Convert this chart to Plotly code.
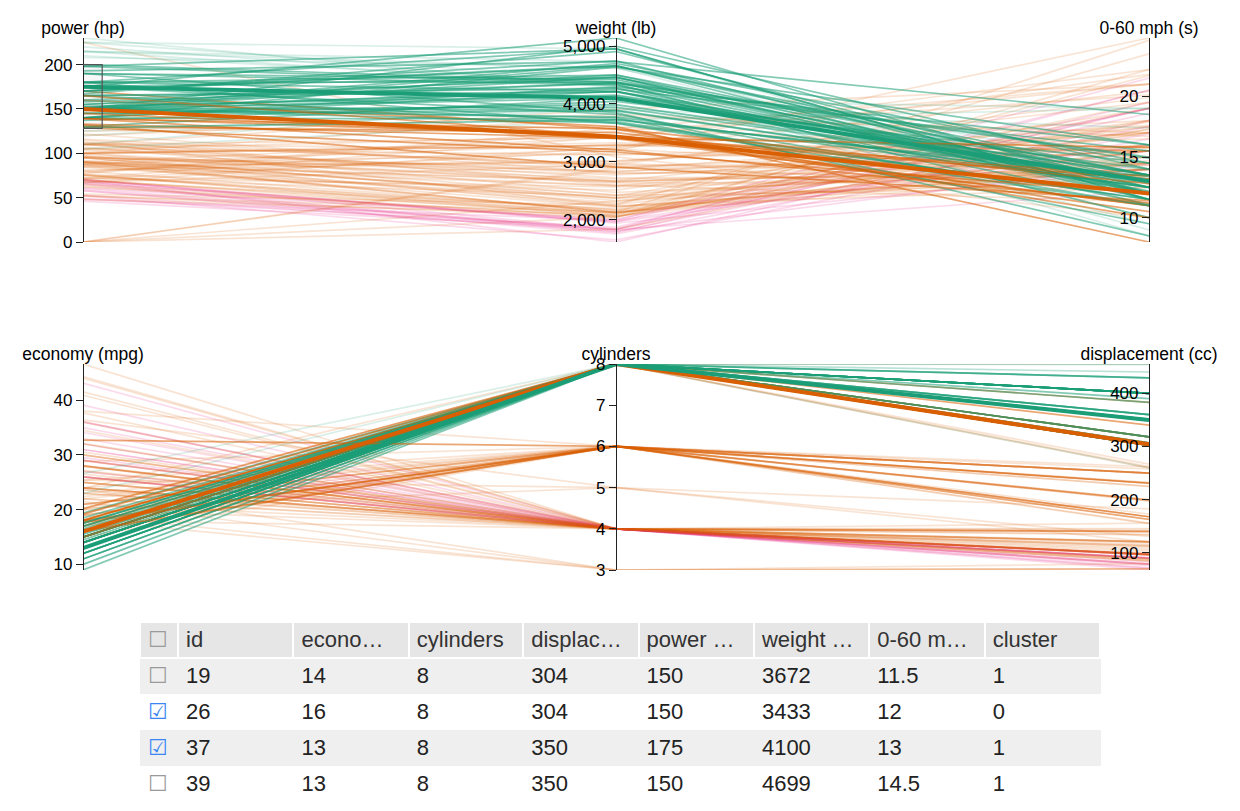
import plotly.graph_objects as go

# one entry per car
economy = [18, 15, 18, 16, 17, 15, 14, 14, 14, 15,
           15, 14, 15, 14, 24, 22, 18, 21, 27, 26,
           25, 24, 25, 26, 21, 10, 10, 11, 9, 28,
           25, 25, 19, 16, 17, 19, 18, 14, 14, 14,
           14, 12, 13, 13, 18, 22, 19, 18, 23, 28,
           30, 30, 31, 35, 27, 26, 23, 13, 15, 17,
           11, 13, 12, 13, 19, 15, 13, 13, 18, 22,
           21, 26, 28, 28, 13, 13, 14, 15, 12, 13,
           13, 13, 12, 13, 18, 16, 23, 11, 12, 13,
           12, 18, 21, 16, 29, 20, 15, 24, 20, 11,
           13, 16, 21, 14, 14, 31, 32, 26, 24, 15,
           16, 14, 17, 20, 13, 29, 24, 29, 33, 17.5,
           15.5, 14.5, 24, 29, 18, 29.5, 26.5, 16.5, 16.5, 36,
           17.5, 17, 16, 15.5, 30.5, 21.5, 43.1, 36.1, 19.4, 20.2,
           17.7, 19.2, 18.1, 20.3, 16.2, 25.4, 27.2, 23.9, 16.9, 18.5,
           41.5, 46.6, 44.3, 40.9, 23.6, 32.7, 23.7, 39.1, 34.5, 25.4,
           38, 32, 36, 44, 28.8, 37.7, 34.1, 30, 22.4, 26.6,
           19.2, 23, 17.6, 27.9, 32.1, 28.1, 36.4]
cylinders = [8, 8, 8, 8, 8, 8, 8, 8, 8, 8,
             8, 8, 8, 8, 4, 6, 6, 6, 4, 4,
             4, 4, 4, 4, 6, 8, 8, 8, 8, 4,
             4, 4, 6, 6, 6, 6, 6, 8, 8, 8,
             8, 8, 8, 8, 6, 4, 6, 6, 4, 4,
             4, 4, 4, 4, 4, 4, 4, 8, 8, 8,
             8, 8, 8, 8, 3, 8, 8, 8, 4, 4,
             4, 4, 4, 4, 8, 8, 8, 8, 8, 8,
             8, 8, 8, 8, 6, 6, 6, 8, 8, 8,
             8, 3, 6, 8, 4, 4, 8, 4, 6, 8,
             8, 6, 6, 8, 8, 4, 4, 4, 4, 6,
             8, 8, 6, 8, 8, 4, 4, 4, 4, 8,
             8, 8, 6, 4, 6, 4, 4, 6, 8, 4,
             8, 8, 8, 8, 4, 3, 4, 4, 8, 8,
             6, 8, 8, 5, 6, 5, 4, 8, 8, 8,
             4, 4, 4, 4, 4, 6, 3, 4, 4, 6,
             6, 4, 4, 4, 6, 4, 4, 4, 6, 8,
             8, 8, 8, 4, 4, 4, 5]
displacement = [307, 350, 318, 304, 302, 429, 454, 440, 455, 390,
                383, 340, 400, 455, 113, 198, 199, 200, 97, 97,
                110, 107, 104, 121, 199, 360, 307, 318, 304, 140,
                113, 98, 232, 225, 250, 250, 232, 350, 400, 351,
                318, 383, 400, 400, 258, 140, 250, 250, 122, 116,
                79, 88, 71, 72, 97, 91, 97, 350, 318, 304,
                429, 350, 350, 400, 70, 304, 307, 302, 121, 121,
                120, 96, 97, 98, 350, 350, 302, 318, 429, 400,
                351, 440, 455, 360, 225, 250, 198, 400, 400, 360,
                350, 70, 155, 400, 68, 114, 318, 121, 156, 350,
                350, 250, 200, 302, 304, 76, 83, 79, 90, 250,
                400, 351, 231, 262, 302, 97, 134, 90, 91, 305,
                304, 351, 200, 85, 250, 97, 140, 168, 350, 79,
                305, 260, 400, 400, 98, 80, 90, 98, 318, 302,
                231, 305, 302, 131, 163, 183, 141, 260, 350, 360,
                98, 86, 90, 85, 140, 168, 70, 79, 100, 168,
                262, 144, 135, 97, 173, 89, 91, 146, 231, 350,
                267, 350, 302, 156, 98, 141, 121]
power = [130, 165, 150, 150, 140, 198, 220, 215, 225, 190,
         170, 160, 150, 225, 95, 95, 97, 85, 88, 46,
         87, 90, 95, 113, 90, 215, 200, 210, 193, 90,
         95, 0, 100, 105, 100, 88, 100, 165, 175, 153,
         150, 180, 170, 175, 110, 72, 100, 88, 86, 90,
         70, 76, 65, 69, 60, 70, 54, 165, 150, 150,
         208, 155, 160, 190, 97, 150, 130, 140, 112, 76,
         87, 69, 92, 80, 175, 145, 137, 150, 198, 150,
         158, 215, 225, 175, 105, 100, 95, 150, 167, 170,
         180, 90, 107, 230, 49, 91, 150, 110, 122, 180,
         150, 100, 0, 140, 150, 52, 61, 67, 75, 72,
         170, 148, 110, 110, 129, 75, 96, 70, 53, 140,
         120, 152, 81, 52, 78, 71, 72, 120, 180, 58,
         145, 110, 180, 190, 63, 110, 48, 66, 140, 139,
         165, 145, 139, 103, 133, 77, 71, 90, 155, 150,
         76, 65, 48, 0, 0, 132, 100, 58, 0, 116,
         85, 96, 84, 52, 115, 62, 68, 67, 110, 105,
         125, 125, 129, 105, 70, 80, 67]
weight = [3504, 3693, 3436, 3433, 3449, 4341, 4354, 4312, 4425, 3850,
          3563, 3609, 3761, 3086, 2372, 2833, 2774, 2587, 2130, 1835,
          2672, 2430, 2375, 2234, 2648, 4615, 4376, 4382, 4732, 2264,
          2228, 2046, 2634, 3439, 3329, 3302, 3288, 4209, 4464, 4154,
          4096, 4955, 4746, 5140, 2962, 2408, 3282, 3139, 2220, 2123,
          2074, 2065, 1773, 1613, 1834, 1955, 2254, 4274, 4135, 3672,
          4633, 4502, 4456, 4422, 2330, 3892, 4098, 4294, 2933, 2511,
          2979, 2189, 2288, 2164, 4100, 3988, 4042, 3777, 4952, 4464,
          4363, 4735, 4951, 3821, 3121, 3278, 2904, 4997, 4906, 4654,
          4499, 2124, 2472, 4278, 1867, 2582, 3399, 2660, 2807, 3664,
          4699, 3781, 2875, 4638, 4257, 1649, 2003, 1963, 2108, 3432,
          4668, 4657, 3907, 3221, 3169, 2171, 2702, 1937, 1795, 4215,
          3962, 4215, 3012, 2035, 3574, 1825, 2565, 3820, 4380, 1825,
          3880, 4060, 4220, 4325, 2051, 2720, 1985, 1800, 3735, 3570,
          3445, 3425, 3205, 2830, 3410, 3530, 3190, 3420, 4360, 3940,
          2144, 2110, 2085, 1835, 2905, 2910, 2420, 1755, 2320, 2900,
          3015, 2665, 2370, 2130, 2595, 2050, 1985, 3250, 3415, 3725,
          3605, 3900, 3725, 2800, 2120, 3230, 2950]
accel = [12, 11.5, 11, 12, 10.5, 10, 9, 8.5, 10, 8.5,
         10, 8, 9.5, 10, 15, 15.5, 15.5, 16, 14.5, 20.5,
         17.5, 14.5, 17.5, 12.5, 15, 14, 15, 13.5, 18.5, 15.5,
         14, 19, 13, 15.5, 15.5, 15.5, 15.5, 12, 11.5, 13.5,
         13, 11.5, 12, 12, 13.5, 19, 15, 14.5, 14, 14,
         19.5, 14.5, 19, 18, 19, 20.5, 23.5, 12, 13.5, 11.5,
         11, 13.5, 13.5, 12.5, 13.5, 12.5, 14, 16, 14.5, 18,
         19.5, 18, 17, 15, 13, 13, 14.5, 12.5, 11.5, 12,
         13, 11, 11, 11, 16.5, 18, 16, 14, 12.5, 13,
         12.5, 13.5, 14, 9.5, 19.5, 14, 11, 14, 13.5, 11,
         14.5, 17, 17, 16, 15.5, 16.5, 19, 15.5, 15.5, 21,
         11.5, 13.5, 21, 13.5, 12, 16, 13.5, 14, 17.5, 13,
         13.9, 12.8, 17.6, 22.2, 21, 12.2, 13.6, 16.7, 12.1, 18.6,
         12.5, 19, 11.1, 12.2, 17, 13.5, 21.5, 14.4, 13.2, 12.8,
         13.4, 13.2, 11.2, 15.9, 15.8, 20.1, 24.8, 22.2, 14.9, 13,
         14.7, 17.9, 21.7, 17.3, 14.3, 11.4, 12.5, 16.9, 15.8, 12.6,
         17, 13.9, 13, 24.6, 11.3, 17.3, 16, 21.8, 15.8, 19,
         15, 17.4, 13.4, 14.4, 15.5, 20.4, 19.9]
cluster = [0, 1, 0, 0, 0, 1, 1, 1, 1, 1,
           0, 0, 1, 0, 0, 0, 0, 0, 0, 2,
           0, 0, 0, 0, 0, 1, 1, 1, 1, 0,
           0, 0, 0, 0, 0, 0, 0, 1, 1, 1,
           1, 1, 1, 1, 0, 0, 0, 0, 0, 0,
           0, 0, 2, 2, 2, 2, 0, 1, 1, 1,
           1, 1, 1, 1, 0, 1, 1, 1, 0, 0,
           0, 0, 0, 0, 1, 1, 1, 1, 1, 1,
           1, 1, 1, 1, 0, 0, 0, 1, 1, 1,
           1, 0, 0, 1, 2, 0, 0, 0, 0, 1,
           1, 0, 0, 1, 1, 2, 2, 2, 0, 0,
           1, 1, 0, 0, 0, 0, 0, 2, 2, 1,
           1, 1, 0, 0, 0, 2, 0, 0, 1, 2,
           1, 1, 1, 1, 0, 0, 2, 2, 1, 0,
           0, 0, 0, 0, 0, 0, 0, 0, 1, 1,
           0, 0, 0, 0, 0, 0, 0, 2, 0, 0,
           0, 0, 0, 0, 0, 0, 2, 0, 0, 1,
           0, 1, 1, 0, 0, 0, 0]

# brush on the power axis
power_brush = [128, 200]

# rows visible in the table
tbl_id = [19, 26, 37, 39]
tbl_economy = [14, 16, 13, 13]
tbl_cylinders = [8, 8, 8, 8]
tbl_displacement = [304, 304, 350, 350]
tbl_power = [150, 150, 175, 150]
tbl_weight = [3672, 3433, 4100, 4699]
tbl_accel = [11.5, 12, 13, 14.5]
tbl_cluster = [1, 0, 1, 1]
tbl_checked = [False, True, True, False]
tbl_header = ["id", "econo…", "cylinders", "displac…", "power …",
              "weight …", "0-60 m…", "cluster"]

# cluster colours (Dark2): 0 orange, 1 green, 2 pink
cluster_rgb = [(217, 95, 2), (27, 158, 119), (231, 41, 138)]

FONT = "Liberation Sans, Arial, Helvetica, sans-serif"

# the page has an 8px body margin
PX, PY, W, H = 8, 8, 1232, 803


def xdom(a, b):
    return [(a - PX) / W, (b - PX) / W]


def ydom(top, bottom):
    return [1 - (bottom - PY) / H, 1 - (top - PY) / H]


def rgba(c, a):
    r, g, b = cluster_rgb[c]
    return f"rgba({r},{g},{b},{a})"


def norm(v, rng):
    return (v - rng[0]) / (rng[1] - rng[0])


# (axis label, data column, table column, axis range, tick step, tick format)
top_dims = [
    ("power (hp)", power, tbl_power, [0, 230], 50, ""),
    ("weight (lb)", weight, tbl_weight, [1613, 5140], 1000, ","),
    ("0-60 mph (s)", accel, tbl_accel, [8, 24.8], 5, ""),
]
bottom_dims = [
    ("economy (mpg)", economy, tbl_economy, [9, 46.6], 10, ""),
    ("cylinders", cylinders, tbl_cylinders, [3, 8], 1, ""),
    ("displacement (cc)", displacement, tbl_displacement, [68, 455], 100, ""),
]

in_brush = [power_brush[0] <= p <= power_brush[1] for p in power]
order = [i for i in range(len(power)) if not in_brush[i]] + \
        [i for i in range(len(power)) if in_brush[i]]
checked = [i for i, c in enumerate(tbl_checked) if c]

fig = go.Figure()
layout = {}


def add_panel(n, dims, xd, yd):
    xa = "x" if n == 0 else f"x{n + 1}"
    base = 1 + n * 4
    ya = "y" if base == 1 else f"y{base}"
    labels = [d[0] for d in dims]

    for i in order:
        fig.add_trace(go.Scatter(
            x=labels, y=[norm(d[1][i], d[3]) for d in dims],
            xaxis=xa, yaxis=ya, mode="lines", hoverinfo="skip",
            line=dict(color=rgba(cluster[i], 0.55 if in_brush[i] else 0.17), width=1.7),
        ))
    for i in checked:
        fig.add_trace(go.Scatter(
            x=labels, y=[norm(d[2][i], d[3]) for d in dims],
            xaxis=xa, yaxis=ya, mode="lines", hoverinfo="skip",
            line=dict(color=rgba(tbl_cluster[i], 1), width=4),
        ))

    layout["xaxis" if n == 0 else f"xaxis{n + 1}"] = dict(
        domain=xd, type="category", range=[0, len(dims) - 1], side="top",
        anchor=ya, showgrid=False, zeroline=False, showline=False, ticks="",
        tickfont=dict(family=FONT, size=17.5, color="black"),
        fixedrange=True, automargin=False,
    )
    layout["yaxis" if base == 1 else f"yaxis{base}"] = dict(
        domain=yd, range=[0, 1], visible=False, anchor=xa,
        fixedrange=True, automargin=False,
    )
    for k, d in enumerate(dims):
        ax = f"y{base + 1 + k}"
        # empty trace so that this dimension axis gets drawn
        fig.add_trace(go.Scatter(
            x=[labels[k], labels[k]], y=d[3], xaxis=xa, yaxis=ax,
            mode="lines", line=dict(color="rgba(0,0,0,0)", width=0),
            hoverinfo="skip",
        ))
        layout[f"yaxis{base + 1 + k}"] = dict(
            overlaying=ya, anchor="free", side="left",
            position=xd[0] + k / (len(dims) - 1) * (xd[1] - xd[0]),
            range=d[3], dtick=d[4], tick0=0, tickformat=d[5],
            showline=True, linecolor="#222", linewidth=1.2,
            ticks="outside", ticklen=7, tickcolor="#222",
            tickfont=dict(family=FONT, size=17, color="black"),
            showgrid=False, zeroline=False, fixedrange=True, automargin=False,
        )


add_panel(0, top_dims, xdom(83, 1149), ydom(38, 242))
add_panel(1, bottom_dims, xdom(83, 1149), ydom(364, 570))

# brush box on the power axis
fig.add_shape(type="rect", xref="x", yref="y2", x0=-0.036, x1=0.036,
              y0=power_brush[0], y1=power_brush[1],
              line=dict(color="#555", width=1.2), fillcolor="rgba(0,0,0,0.03)")

# table
box = ["☑" if c else "☐" for c in tbl_checked]
box_col = ["#3a86f5" if c else "#9a9a9a" for c in tbl_checked]
row_fill = ["#efefef" if i % 2 == 0 else "white" for i in range(len(tbl_id))]
n_cols = 1 + len(tbl_header)

fig.add_trace(go.Table(
    domain=dict(x=xdom(140, 1100), y=ydom(622, 811)),
    columnwidth=[38, 115, 115, 114, 115, 115, 115, 115, 115],
    header=dict(
        values=["☐"] + tbl_header,
        fill_color="#e6e6e6",
        line=dict(color="white", width=2),
        align="left",
        height=36,
        font=dict(family=FONT, size=22, color=["#9a9a9a"] + ["#333"] * len(tbl_header)),
    ),
    cells=dict(
        values=[box, tbl_id, tbl_economy, tbl_cylinders, tbl_displacement,
                tbl_power, tbl_weight, tbl_accel, tbl_cluster],
        fill_color=[row_fill] * n_cols,
        line=dict(color=[row_fill] * n_cols, width=1),
        align="left",
        height=36,
        font=dict(family=FONT, size=22, color=[box_col] + [["#222"] * 4] * len(tbl_header)),
    ),
))

fig.update_layout(
    width=W, height=H,
    margin=dict(l=0, r=0, t=0, b=0, autoexpand=False),
    paper_bgcolor="white", plot_bgcolor="rgba(0,0,0,0)",
    showlegend=False,
    font=dict(family=FONT),
    **layout,
)

fig.write_html("out.html")
